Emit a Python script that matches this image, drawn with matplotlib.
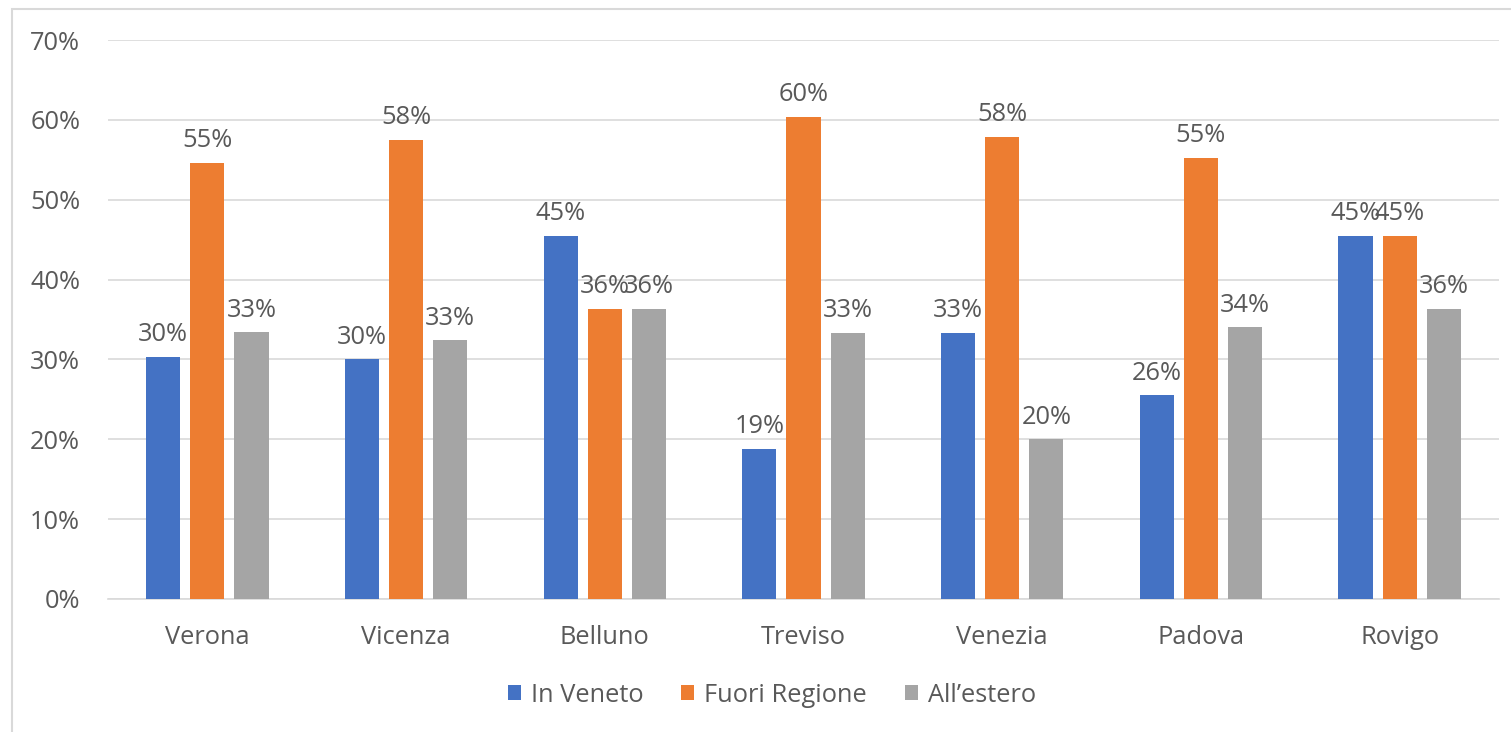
import matplotlib
matplotlib.use("Agg")
import matplotlib.pyplot as plt
import numpy as np
from matplotlib.patches import Rectangle

categories = ["Verona", "Vicenza", "Belluno", "Treviso", "Venezia", "Padova", "Rovigo"]
in_veneto = [30.3, 30.0, 45.45, 18.8, 33.3, 25.5, 45.45]
fuori_regione = [54.6, 57.5, 36.3, 60.4, 57.9, 55.2, 45.45]
all_estero = [33.4, 32.4, 36.3, 33.3, 20.0, 34.0, 36.3]
labels_in = ["30%", "30%", "45%", "19%", "33%", "26%", "45%"]
labels_fuori = ["55%", "58%", "36%", "60%", "58%", "55%", "45%"]
labels_estero = ["33%", "33%", "36%", "33%", "20%", "34%", "36%"]
series_names = ["In Veneto", "Fuori Regione", "All\u2019estero"]
yticks = [0, 10, 20, 30, 40, 50, 60, 70]

colors = ["#4472C4", "#ED7D31", "#A5A5A5"]
txt = "#595959"
grid = "#D9D9D9"
fs = 18.3

plt.rcParams['font.family'] = ['Open Sans', 'DejaVu Sans']

W, H = 1511, 732
fig = plt.figure(figsize=(W/100, H/100), dpi=100)
ax = fig.add_axes([108/W, 1-599/H, (1499-108)/W, (599-40)/H])

# chart border
fig.add_artist(Rectangle((12/W, -0.05), 1.2, 1-9/H+0.05, transform=fig.transFigure,
                         fill=False, edgecolor=grid, linewidth=1.5))

x = np.arange(len(categories))
w = 0.172
pitch = 0.222
data = [in_veneto, fuori_regione, all_estero]
labs = [labels_in, labels_fuori, labels_estero]
for i, (vals, lab) in enumerate(zip(data, labs)):
    pos = x + (i-1)*pitch
    ax.bar(pos, vals, width=w, color=colors[i], label=series_names[i], zorder=3)
    for p, v, l in zip(pos, vals, lab):
        ax.annotate(l, (p, v), xytext=(0, 7), textcoords="offset points",
                    ha="center", va="bottom", fontsize=fs, color=txt)

ax.set_xlim(-0.5, len(categories)-0.5)
ax.set_ylim(0, 70)
ax.set_yticks(yticks)
ax.set_yticklabels([f"{t}%" for t in yticks])
ax.set_xticks(x)
ax.set_xticklabels(categories)
ax.tick_params(axis='both', length=0, labelsize=fs, colors=txt)
ax.tick_params(axis='y', pad=20)
ax.tick_params(axis='x', pad=19)
ax.yaxis.grid(True, color=grid, linewidth=1.2, zorder=0)
for s in ["top", "right", "left"]:
    ax.spines[s].set_visible(False)
ax.spines["bottom"].set_color(grid)
ax.spines["bottom"].set_linewidth(1.2)

leg = fig.legend(loc="center", bbox_to_anchor=(772/W, 1-695/H), ncol=3, frameon=False,
                 fontsize=fs, handlelength=0.5, handleheight=0.5, handletextpad=0.4,
                 columnspacing=1.5)
for t in leg.get_texts():
    t.set_color(txt)

fig.savefig("out.png", dpi=100)
